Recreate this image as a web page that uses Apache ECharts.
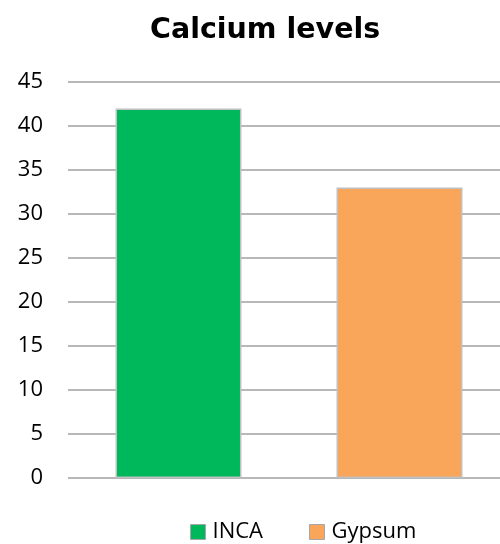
<!DOCTYPE html>
<html>
<head>
<meta charset="utf-8">
<script src="https://cdn.jsdelivr.net/npm/echarts@6/dist/echarts.min.js"></script>
<style>
  html, body { margin: 0; padding: 0; background: #fff; }
  #main { width: 500px; height: 544px; }
</style>
</head>
<body>
<div id="main"></div>
<script>
const categories = ['INCA', 'Gypsum']
const incaValues = [42, '-']
const gypsumValues = ['-', 33]
const yTicks = { min: 0, max: 45, interval: 5 }

const chart = echarts.init(document.getElementById('main'))

chart.setOption({
    animation: false,
    title: {
        text: 'Calcium levels',
        left: 145,
        top: 11,
        textStyle: {
            fontFamily: 'DejaVu Sans',
            fontWeight: 'bold',
            fontSize: 28.5,
            color: '#000',
        },
    },
    legend: {
        top: 516,
        left: 185,
        itemWidth: 15,
        itemHeight: 15,
        itemGap: 46,
        textStyle: {
            fontFamily: 'Open Sans',
            fontSize: 22,
            color: '#000',
            padding: [0, 0, 0, 2],
        },
        data: [
            { name: 'INCA', icon: 'rect', itemStyle: { borderColor: '#a6a6a6', borderWidth: 1 } },
            { name: 'Gypsum', icon: 'rect', itemStyle: { borderColor: '#a6a6a6', borderWidth: 1 } },
        ],
    },
    grid: {
        left: 68,
        right: -10,
        top: 82,
        bottom: 66,
        outerBoundsMode: 'none',
    },
    xAxis: {
        type: 'category',
        data: categories,
        axisLine: { show: false },
        axisTick: { show: false },
        axisLabel: { show: false },
    },
    yAxis: {
        type: 'value',
        min: yTicks.min,
        max: yTicks.max,
        interval: yTicks.interval,
        axisLine: { show: false },
        axisTick: { show: false },
        axisLabel: {
            fontFamily: 'Open Sans',
            fontSize: 22,
            color: '#000',
            margin: 25,
        },
        splitLine: {
            lineStyle: { color: '#a0a0a0', width: 1.5 },
        },
    },
    series: [
        {
            name: 'INCA',
            type: 'bar',
            stack: 'all',
            barWidth: '57%',
            data: incaValues,
            itemStyle: {
                color: '#00b85c',
                borderColor: '#c0c0c0',
                borderWidth: 1.5,
            },
        },
        {
            name: 'Gypsum',
            type: 'bar',
            stack: 'all',
            barWidth: '57%',
            data: gypsumValues,
            itemStyle: {
                color: '#f9a65a',
                borderColor: '#c0c0c0',
                borderWidth: 1.5,
            },
        },
    ],
})
</script>
</body>
</html>
